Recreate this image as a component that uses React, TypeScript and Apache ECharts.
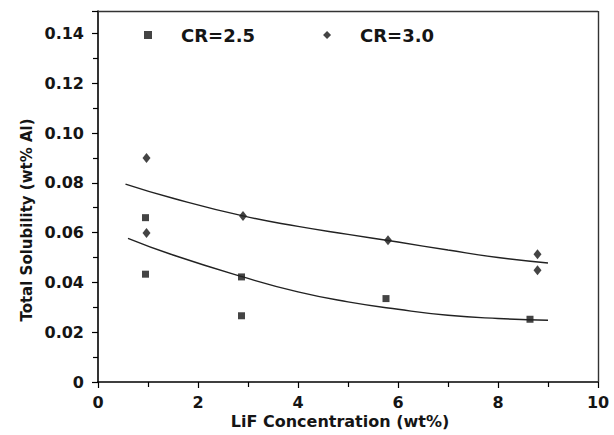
import React, { useEffect, useRef } from "react";
import * as echarts from "echarts";

const cr25Points: [number, number][] = [
  [0.95, 0.066], [0.95, 0.0433], [2.87, 0.0422], [2.87, 0.0266], [5.76, 0.0335], [8.64, 0.0252],
];
const cr30Points: [number, number][] = [
  [0.97, 0.09], [0.97, 0.0598], [2.9, 0.0667], [5.8, 0.0569], [8.79, 0.0513], [8.79, 0.0449],
];
const cr25Fit: [number, number][] = [
  [0.6, 0.0577], [1.5, 0.051], [2.9, 0.0422], [4, 0.0362], [5, 0.0322], [6, 0.0292], [7, 0.0268], [8, 0.0255], [9.0, 0.0248],
];
const cr30Fit: [number, number][] = [
  [0.55, 0.0795], [1.5, 0.0738], [2.9, 0.0667], [4, 0.0625], [5, 0.0593], [6, 0.0562], [7, 0.053], [8, 0.05], [9.0, 0.0478],
];
const legendNames = ["CR=2.5", "CR=3.0"];
const xTitle = "LiF Concentration (wt%)";
const yTitle = "Total Solubility (wt% Al)";

export default function App() {
  const ref = useRef<HTMLDivElement>(null);
  useEffect(() => {
    if (!ref.current) return;
    const chart = echarts.init(ref.current, null, { renderer: "svg" });
    const font = "'DejaVu Sans', Arial, sans-serif";
    const ink = "#151515";
    chart.setOption({
      animation: false,
      backgroundColor: "#fff",
      textStyle: { fontFamily: font, color: ink },
      grid: { left: 98, right: 16, top: 11, bottom: 53 },
      legend: {
        data: [
          { name: legendNames[0], icon: "rect" },
          { name: legendNames[1], icon: "diamond" },
        ],
        left: 144,
        top: 26,
        padding: 0,
        itemWidth: 8,
        itemHeight: 8,
        itemGap: 68,
        textStyle: { fontFamily: font, fontSize: 18, fontWeight: "bold", color: ink, padding: [0, 0, 0, 24] },
      },
      xAxis: {
        type: "value",
        min: 0,
        max: 10,
        interval: 2,
        axisLine: { show: true, lineStyle: { color: "#000", width: 1.6 } },
        axisTick: { show: true, inside: false, length: 6, lineStyle: { color: "#000", width: 1.2 } },
        minorTick: { show: true, splitNumber: 2, length: 5, lineStyle: { color: "#000", width: 1.2 } },
        axisLabel: { fontSize: 16, fontWeight: "bold", color: ink, margin: 12, fontFamily: font },
        splitLine: { show: false },
      },
      yAxis: {
        type: "value",
        min: 0,
        max: 0.149,
        interval: 0.02,
        axisLine: { show: true, lineStyle: { color: "#000", width: 1.6 } },
        axisTick: { show: true, inside: false, length: 6, lineStyle: { color: "#000", width: 1.2 } },
        minorTick: { show: true, splitNumber: 2, length: 5, lineStyle: { color: "#000", width: 1.2 } },
        axisLabel: {
          fontSize: 16,
          fontWeight: "bold",
          color: ink,
          margin: 14,
          fontFamily: font,
          showMaxLabel: false,
          formatter: (v: number) => (v === 0 ? "0" : v.toFixed(2)),
        },
        splitLine: { show: false },
      },
      graphic: [
        {
          type: "text",
          x: 340,
          y: 421,
          style: {
            text: xTitle,
            fontFamily: font,
            fontSize: 16,
            fontWeight: "bold",
            fill: ink,
            textAlign: "center",
            textVerticalAlign: "middle",
          },
        },
        {
          type: "text",
          x: 27,
          y: 220,
          rotation: Math.PI / 2,
          style: {
            text: yTitle,
            fontFamily: font,
            fontSize: 15,
            fontWeight: "bold",
            fill: ink,
            textAlign: "center",
            textVerticalAlign: "middle",
          },
        },
      ],
      series: [
        {
          name: legendNames[0],
          type: "scatter",
          data: cr25Points,
          symbol: "rect",
          symbolSize: 7,
          itemStyle: { color: ink },
        },
        {
          name: legendNames[1],
          type: "scatter",
          data: cr30Points,
          symbol: "diamond",
          symbolSize: [8, 10],
          itemStyle: { color: ink },
        },
        {
          name: "fit25",
          type: "line",
          data: cr25Fit,
          smooth: 0.5,
          showSymbol: false,
          lineStyle: { color: "#222", width: 1.4 },
        },
        {
          name: "fit30",
          type: "line",
          data: cr30Fit,
          smooth: 0.5,
          showSymbol: false,
          lineStyle: { color: "#222", width: 1.4 },
        },
        {
          name: "frame",
          type: "line",
          data: [],
          markLine: {
            silent: true,
            symbol: "none",
            label: { show: false },
            lineStyle: { color: "#333", width: 1.4, type: "solid" },
            data: [
              [{ coord: [0, 0.149] }, { coord: [10, 0.149] }],
              [{ coord: [10, 0] }, { coord: [10, 0.149] }],
            ],
          },
        },
      ],
    });
    return () => chart.dispose();
  }, []);
  return (
    <div
      ref={ref}
      style={{ position: "fixed", left: 0, top: 0, width: 614, height: 435 }}
    />
  );
}
